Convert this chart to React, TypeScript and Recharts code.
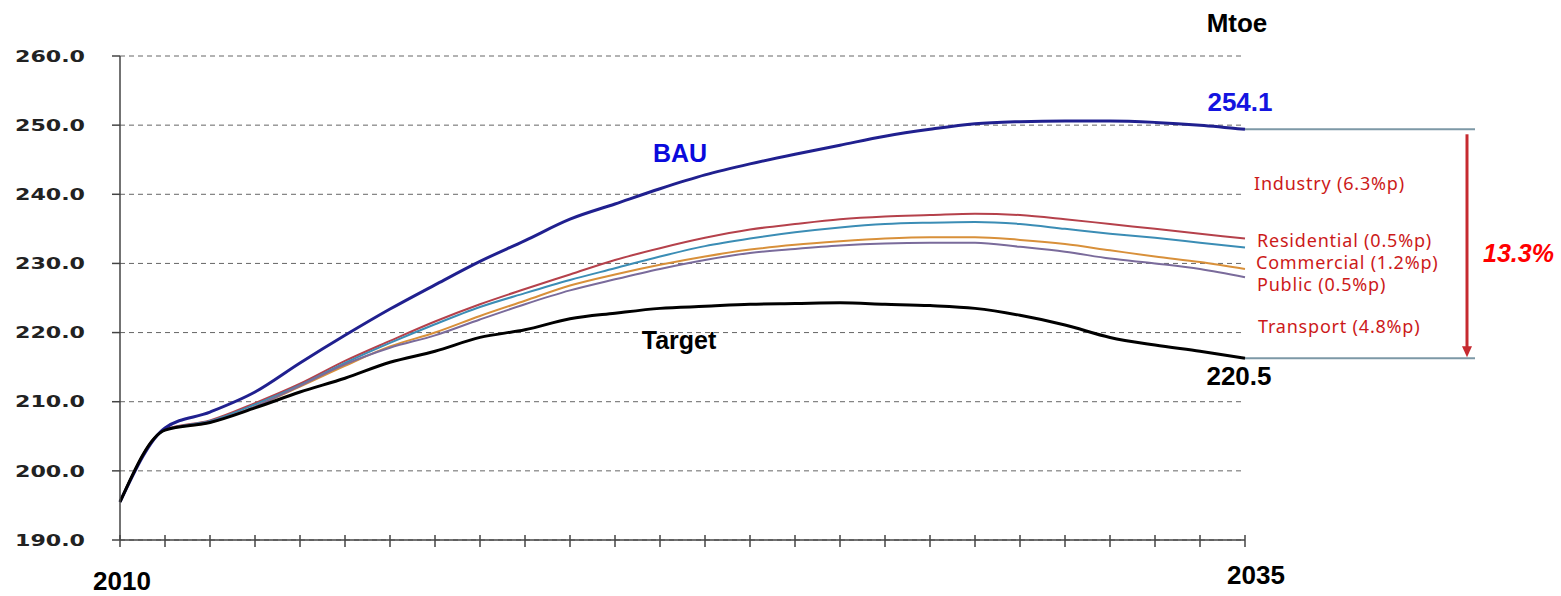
import {
  CartesianGrid,
  Customized,
  Line,
  LineChart,
  ReferenceArea,
  XAxis,
  YAxis,
} from "recharts";

const years = [
  2010, 2011, 2012, 2013, 2014, 2015, 2016, 2017, 2018, 2019, 2020, 2021, 2022,
  2023, 2024, 2025, 2026, 2027, 2028, 2029, 2030, 2031, 2032, 2033, 2034, 2035,
];

const bau = [
  195.5, 206.2, 208.5, 211.4, 215.6, 219.6, 223.4, 226.9, 230.3, 233.3, 236.4,
  238.6, 240.8, 242.8, 244.4, 245.8, 247.1, 248.4, 249.4, 250.2, 250.5, 250.6,
  250.6, 250.4, 250.0, 249.4,
];
const afterIndustry = [
  195.5, 206.0, 207.3, 209.8, 212.6, 215.9, 218.8, 221.6, 224.1, 226.3, 228.4,
  230.5, 232.2, 233.7, 234.9, 235.7, 236.4, 236.8, 237.0, 237.2, 237.0, 236.4,
  235.7, 235.0, 234.3, 233.6,
];
const afterResidential = [
  195.5, 205.9, 207.2, 209.6, 212.4, 215.6, 218.5, 221.2, 223.7, 225.7, 227.6,
  229.3, 231.0, 232.5, 233.6, 234.5, 235.2, 235.7, 235.9, 236.0, 235.7, 235.0,
  234.3, 233.7, 233.0, 232.3,
];
const afterCommercial = [
  195.5, 205.9, 207.0, 209.3, 212.2, 215.2, 218.0, 220.0, 222.4, 224.6, 226.8,
  228.4, 229.8, 231.0, 232.0, 232.7, 233.2, 233.6, 233.8, 233.8, 233.4, 232.8,
  231.9, 231.0, 230.2, 229.2,
];
const afterPublic = [
  195.5, 205.9, 207.1, 209.3, 212.3, 215.4, 217.8, 219.6, 221.9, 224.1, 226.1,
  227.7, 229.2, 230.5, 231.5, 232.1, 232.6, 232.9, 233.0, 233.0, 232.4, 231.7,
  230.7, 230.0, 229.2, 228.0,
];
const target = [
  195.5, 205.9, 207.0, 209.1, 211.4, 213.4, 215.7, 217.3, 219.3, 220.4, 222.0,
  222.8, 223.5, 223.8, 224.1, 224.2, 224.3, 224.1, 223.9, 223.5, 222.5, 221.1,
  219.3, 218.2, 217.3, 216.3,
];

const yTicks = [190, 200, 210, 220, 230, 240, 250, 260];
const labeledYears = [2010, 2035];

const sectorNotes = [
  { text: "Industry (6.3%p)", dx: 9, dy: 61 },
  { text: "Residential (0.5%p)", dx: 12, dy: 118 },
  { text: "Commercial (1.2%p)", dx: 11, dy: 140 },
  { text: "Public (0.5%p)", dx: 12, dy: 162 },
  { text: "Transport (4.8%p)", dx: 13, dy: 204 },
];

const data = years.map((year, i) => ({
  year,
  bau: bau[i],
  industry: afterIndustry[i],
  residential: afterResidential[i],
  commercial: afterCommercial[i],
  public: afterPublic[i],
  target: target[i],
}));

const boldSans = "'Liberation Sans', Arial, sans-serif";

function YTick({ x, y, payload }: any) {
  return (
    <text
      x={x}
      y={y}
      dy="0.36em"
      textAnchor="end"
      fontFamily="'DejaVu Sans', Verdana, sans-serif"
      fontWeight={700}
      fontSize={16}
      fill="#222"
      textLength={70}
      lengthAdjust="spacingAndGlyphs"
    >
      {Number(payload.value).toFixed(1)}
    </text>
  );
}

function XTick({ x, y, payload }: any) {
  const v = payload.value;
  const show = labeledYears.includes(v);
  return (
    <g>
      <line x1={x} x2={x} y1={y - 5} y2={y + 7} stroke="#444" strokeWidth={1.5} />
      {show && (
        <text
          x={v === 2010 ? x + 2 : x + 11}
          y={v === 2010 ? y + 50 : y + 44}
          textAnchor="middle"
          fontFamily={boldSans}
          fontWeight={700}
          fontSize={26}
          fill="#000"
        >
          {v}
        </text>
      )}
    </g>
  );
}

function GapShape({ x, y, width, height }: any) {
  const right = x + width;
  const bottom = y + height;
  const ax = right + 222;
  return (
    <g>
      <line x1={right} x2={right + 230} y1={y} y2={y} stroke="#7d98a6" strokeWidth={2} />
      <line x1={right} x2={right + 230} y1={bottom} y2={bottom} stroke="#7d98a6" strokeWidth={2} />
      <line x1={ax} x2={ax} y1={y + 5} y2={bottom - 10} stroke="#c62a30" strokeWidth={3} />
      <polygon points={`${ax - 5},${bottom - 12} ${ax + 5},${bottom - 12} ${ax},${bottom - 1}`} fill="#c62a30" />
      <text
        x={right - 5}
        y={y - 18}
        textAnchor="middle"
        fontFamily={boldSans}
        fontWeight={700}
        fontSize={26}
        fill="#1414e0"
      >
        254.1
      </text>
      <text
        x={right - 6}
        y={bottom + 27}
        textAnchor="middle"
        fontFamily={boldSans}
        fontWeight={700}
        fontSize={26}
        fill="#000"
      >
        220.5
      </text>
      {sectorNotes.map((n) => (
        <text
          key={n.text}
          x={right + n.dx}
          y={y + n.dy}
          fontFamily="'Noto Sans', sans-serif"
          fontSize={18}
          letterSpacing={0.8}
          fill="#cc1a1a"
        >
          {n.text}
        </text>
      ))}
      <text
        x={ax + 16}
        y={y + 133}
        fontFamily={boldSans}
        fontWeight={700}
        fontStyle="italic"
        fontSize={25}
        fill="#ff0000"
      >
        13.3%
      </text>
    </g>
  );
}

function Labels() {
  return (
    <g fontFamily={boldSans} fontWeight={700}>
      <text x={1237} y={32} textAnchor="middle" fontSize={26} fill="#000">
        Mtoe
      </text>
      <text x={680} y={162} textAnchor="middle" fontSize={25} fill="#0a0adc">
        BAU
      </text>
      <text x={679} y={349} textAnchor="middle" fontSize={25} fill="#000">
        Target
      </text>
    </g>
  );
}

export default function App() {
  return (
    <div style={{ position: "absolute", left: 0, top: 0, background: "#fff" }}>
      <LineChart
        width={1561}
        height={596}
        data={data}
        margin={{ top: 56, right: 316, bottom: 0, left: 10 }}
      >
        <CartesianGrid
          vertical={false}
          stroke="#666"
          strokeDasharray="5 4"
        />
        <XAxis
          dataKey="year"
          type="number"
          domain={[2010, 2035]}
          ticks={years}
          interval={0}
          height={56}
          axisLine={{ stroke: "#444", strokeWidth: 1.5 }}
          tickLine={false}
          tickSize={0}
          tickMargin={0}
          tick={<XTick />}
        />
        <YAxis
          domain={[190, 260]}
          ticks={yTicks}
          interval={0}
          width={110}
          axisLine={{ stroke: "#444", strokeWidth: 1.5 }}
          tickLine={{ stroke: "#444", strokeWidth: 1.5 }}
          tickSize={8}
          tickMargin={27}
          tick={<YTick />}
        />
        <ReferenceArea
          y1={target[target.length - 1]}
          y2={bau[bau.length - 1]}
          fill="none"
          stroke="none"
          shape={<GapShape />}
        />
        <Line type="monotone" dataKey="industry" stroke="#b5414b" strokeWidth={2} dot={false} isAnimationActive={false} />
        <Line type="monotone" dataKey="residential" stroke="#3b8db5" strokeWidth={2} dot={false} isAnimationActive={false} />
        <Line type="monotone" dataKey="commercial" stroke="#d8903a" strokeWidth={2} dot={false} isAnimationActive={false} />
        <Line type="monotone" dataKey="public" stroke="#7a6b9b" strokeWidth={2} dot={false} isAnimationActive={false} />
        <Line type="monotone" dataKey="bau" stroke="#20208f" strokeWidth={3} dot={false} isAnimationActive={false} />
        <Line type="monotone" dataKey="target" stroke="#000" strokeWidth={3} dot={false} isAnimationActive={false} />
        <Customized component={Labels} />
      </LineChart>
    </div>
  );
}
